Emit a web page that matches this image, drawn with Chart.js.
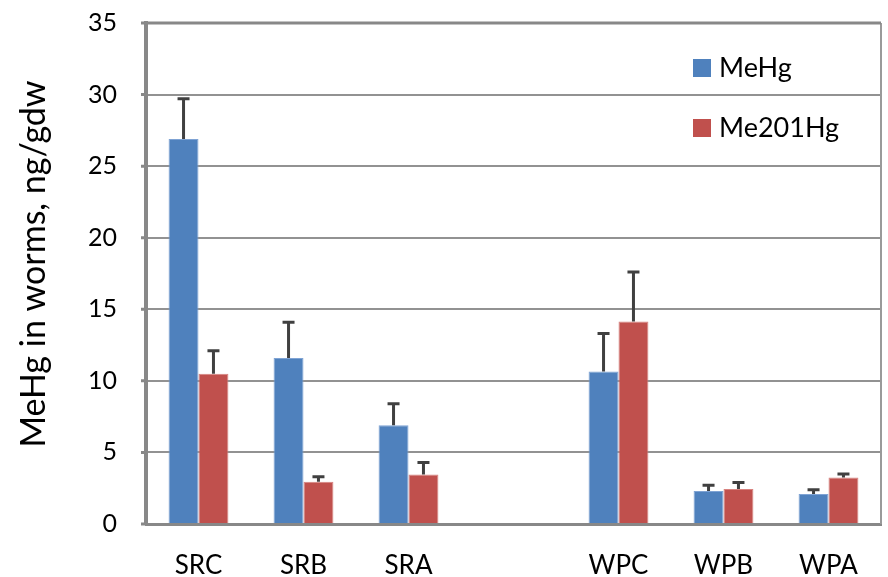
<!DOCTYPE html>
<html>
<head>
<meta charset="utf-8">
<script src="https://cdn.jsdelivr.net/npm/chart.js@4.4.0/dist/chart.umd.min.js"></script>
<style>
  html,body{margin:0;padding:0;background:#fff;}
</style>
</head>
<body>
<canvas id="c" width="888" height="577"></canvas>
<script>
const categories = ['SRC','SRB','SRA','','WPC','WPB','WPA'];
const meHg      = [26.9, 11.6, 6.9, null, 10.65, 2.3, 2.1];
const meHgErr   = [2.8, 2.5, 1.5, null, 2.65, 0.4, 0.3];
const me201Hg   = [10.5, 2.95, 3.45, null, 14.15, 2.45, 3.25];
const me201Err  = [1.6, 0.35, 0.85, null, 3.45, 0.45, 0.25];
const yTicks    = [0,5,10,15,20,25,30,35];
const seriesNames = ['MeHg','Me201Hg'];
const seriesColors = ['#4F81BD','#C0504D'];
const yTitle = 'MeHg in worms, ng/gdw';

const FONT = 'Lato, "Open Sans", sans-serif';

// error bars (upper only) drawn through the y scale
const errorBars = {
  id:'errorBars',
  afterDatasetsDraw(chart){
    const ctx=chart.ctx, y=chart.scales.y;
    const errs=[meHgErr, me201Err];
    chart.data.datasets.forEach((ds,di)=>{
      const meta=chart.getDatasetMeta(di);
      meta.data.forEach((bar,i)=>{
        const v=ds.data[i], e=errs[di][i];
        if(v==null||e==null) return;
        const x=bar.x, y0=y.getPixelForValue(v), y1=y.getPixelForValue(v+e);
        ctx.save();
        ctx.strokeStyle='#404040';
        ctx.lineWidth=3;
        ctx.beginPath();
        ctx.moveTo(x,y0); ctx.lineTo(x,y1);
        ctx.moveTo(x-6,y1); ctx.lineTo(x+6,y1);
        ctx.stroke();
        ctx.restore();
      });
    });
  }
};

// legend inside plot, top right + rotated y title
const extras = {
  id:'extras',
  afterDraw(chart){
    const ctx=chart.ctx;
    const rows=[68,128];
    ctx.save();
    ctx.font='27px '+FONT;
    ctx.textBaseline='middle';
    seriesNames.forEach((n,i)=>{
      ctx.fillStyle=seriesColors[i];
      ctx.fillRect(693, rows[i]-9, 18, 18);
      ctx.fillStyle='#000';
      ctx.fillText(n, 719, rows[i]);
    });
    ctx.restore();

    ctx.save();
    ctx.translate(45,264);
    ctx.rotate(-Math.PI/2);
    ctx.font='34px '+FONT;
    ctx.fillStyle='#000';
    ctx.textAlign='center';
    ctx.textBaseline='alphabetic';
    ctx.fillText(yTitle,0,0);
    ctx.restore();
  }
};

// top and right border of plot area, small outside ticks
const frame = {
  id:'frame',
  beforeDatasetsDraw(chart){
    const a=chart.chartArea, ctx=chart.ctx, y=chart.scales.y;
    ctx.save();
    ctx.strokeStyle='#9a9a9a';
    ctx.lineWidth=2;
    ctx.beginPath();
    ctx.moveTo(a.right,a.top); ctx.lineTo(a.right,a.bottom);
    ctx.stroke();
    ctx.strokeStyle='#888';
    ctx.lineWidth=3;
    ctx.beginPath();
    ctx.moveTo(a.left,a.top); ctx.lineTo(a.right,a.top);
    yTicks.forEach(v=>{ const p=y.getPixelForValue(v); ctx.moveTo(a.left-5,p); ctx.lineTo(a.left,p); });
    ctx.stroke();
    ctx.restore();
  }
};

new Chart(document.getElementById('c'),{
  type:'bar',
  data:{
    labels:categories,
    datasets:[
      {label:seriesNames[0],data:meHg,backgroundColor:seriesColors[0],borderColor:'#7FA3D4',borderWidth:1},
      {label:seriesNames[1],data:me201Hg,backgroundColor:seriesColors[1],borderColor:'#D8827F',borderWidth:1}
    ]
  },
  options:{
    responsive:false,
    animation:false,
    devicePixelRatio:1,
    layout:{padding:{left:0,right:7,top:23,bottom:0}},
    plugins:{legend:{display:false},tooltip:{enabled:false}},
    datasets:{bar:{categoryPercentage:0.57,barPercentage:1}},
    scales:{
      x:{
        grid:{display:false},
        border:{color:'#888',width:3},
        ticks:{color:'#000',font:{family:FONT,size:26},padding:18,autoSkip:false,maxRotation:0,minRotation:0},
        afterFit(s){ s.height=53; }
      },
      y:{
        min:0,max:35,
        afterBuildTicks(s){ s.ticks=yTicks.map(v=>({value:v})); },
        grid:{color:'#929292',lineWidth:2,tickLength:25,tickColor:'rgba(0,0,0,0)'},
        border:{color:'#888',width:4},
        ticks:{color:'#000',font:{family:FONT,size:25},padding:4},
        afterFit(s){ s.width=146; }
      }
    }
  },
  plugins:[frame,errorBars,extras]
});
</script>
</body>
</html>
